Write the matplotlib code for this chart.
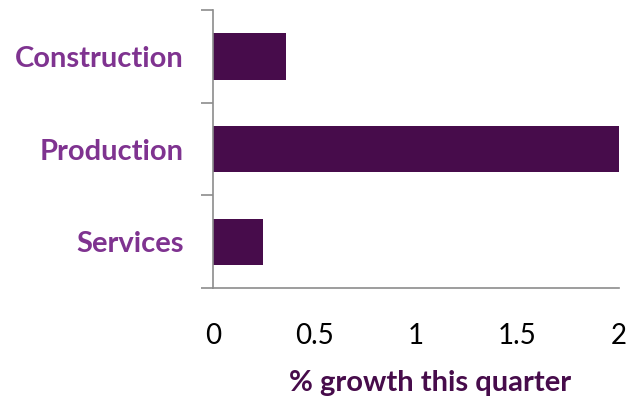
import numpy as np
import matplotlib.pyplot as plt

# ---------------- data ----------------
categories = ["Services", "Production", "Construction"]
growth = [0.245, 2.0, 0.36]
xticks = [0, 0.5, 1, 1.5, 2]
xtick_labels = ["0", "0.5", "1", "1.5", "2"]

bar_color = "#470c4b"
label_color = "#7f3390"
spine_color = "#8c8c8c"

plt.rcParams['font.family'] = ['Lato', 'DejaVu Sans']

fig = plt.figure(figsize=(6.27, 4.03), dpi=100)
ax = fig.add_axes([0.340, 0.285, 0.647, 0.690])

y = np.arange(len(categories))
ax.barh(y, growth, height=0.5, color=bar_color)

ax.set_xlim(0, 2)
ax.set_ylim(-0.5, len(categories) - 0.5)

# category labels, tick marks between categories
ax.set_yticks(y)
ax.set_yticklabels(categories, fontsize=21, fontweight="bold", color=label_color)
ax.tick_params(axis="y", which="major", length=0, pad=21)
ax.set_yticks(np.arange(-0.5, len(categories)), minor=True)
ax.tick_params(axis="y", which="minor", length=9, width=1.2, color=spine_color, direction="out")

ax.set_xticks(xticks)
ax.set_xticklabels(xtick_labels, fontsize=20, color="black")
ax.tick_params(axis="x", length=0, pad=25)

ax.set_xlabel("% growth this quarter", fontsize=21, fontweight="bold", color=bar_color)
ax.xaxis.set_label_coords(0.535, -0.295)

for s in ["top", "right"]:
    ax.spines[s].set_visible(False)
for s in ["left", "bottom"]:
    ax.spines[s].set_color(spine_color)
    ax.spines[s].set_linewidth(1.2)

fig.savefig("out.png", dpi=100)
